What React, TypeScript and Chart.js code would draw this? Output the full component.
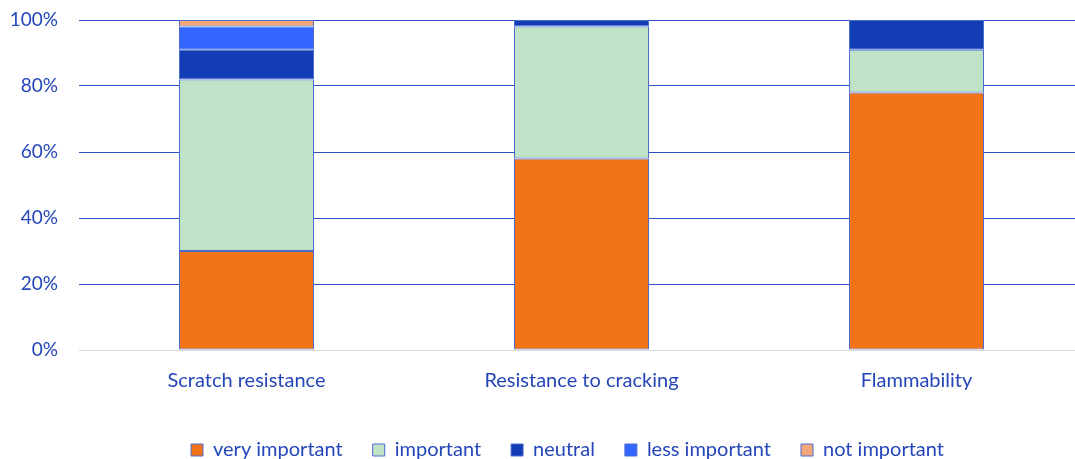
import React, { useEffect, useRef } from "react";
import { Chart, registerables } from "chart.js";

Chart.register(...registerables);

const categories = ["Scratch resistance", "Resistance to cracking", "Flammability"];
const veryImportant = [30, 58, 78];
const important = [52, 40, 13];
const neutral = [9, 2, 9];
const lessImportant = [7, 0, 0];
const notImportant = [2, 0, 0];
const yTicks = [0, 20, 40, 60, 80, 100];

const TEXT = "#2446B8";
const FONT = "Lato";
const W = 1100;
const H = 459;

const legendShift = {
  id: "legendShift",
  afterLayout(chart: any) {
    const lg = chart.legend;
    if (!lg) return;
    const dx = 25.5;
    const dy = 11;
    lg.left += dx;
    lg.right += dx;
    lg.top += dy;
    lg.bottom += dy;
  },
};

export default function App() {
  const ref = useRef<HTMLCanvasElement | null>(null);
  useEffect(() => {
    if (!ref.current) return;
    const border = "#4A6CD0";
    const mk = (label: string, data: number[], color: string) => ({
      label,
      data,
      backgroundColor: color,
      borderColor: border,
      borderWidth: 1,
      borderSkipped: false as const,
      barPercentage: 0.403,
      categoryPercentage: 1,
    });
    const chart = new Chart(ref.current, {
      type: "bar",
      data: {
        labels: categories,
        datasets: [
          mk("very important", veryImportant, "#F37319"),
          mk("important", important, "#C0E2C6"),
          mk("neutral", neutral, "#133DB5"),
          mk("less important", lessImportant, "#3366FF"),
          mk("not important", notImportant, "#F4A679"),
        ],
      },
      plugins: [legendShift],
      options: {
        responsive: false,
        animation: false,
        layout: { padding: { top: 20, right: W - 1084, left: 0, bottom: 0 } },
        plugins: {
          tooltip: { enabled: false },
          legend: {
            position: "bottom",
            labels: {
              color: TEXT,
              font: { family: FONT, size: 20 },
              boxWidth: 12,
              boxHeight: 12,
              padding: 30,
            },
          },
        },
        scales: {
          x: {
            stacked: true,
            grid: { display: false, drawTicks: false },
            border: { display: false },
            ticks: { color: TEXT, font: { family: FONT, size: 20 }, padding: 19 },
            afterFit: (s: any) => {
              s.height = 49;
            },
          },
          y: {
            stacked: true,
            min: 0,
            max: 100,
            afterBuildTicks: (s: any) => {
              s.ticks = yTicks.map((v) => ({ value: v }));
            },
            afterFit: (s: any) => {
              s.width = 79;
            },
            grid: {
              drawTicks: true,
              tickLength: 21,
              tickColor: "rgba(0,0,0,0)",
              color: (ctx: any) => (ctx.tick && ctx.tick.value === 0 ? "#D9D9D9" : "#2E50C4"),
              lineWidth: 1,
            },
            border: { display: false },
            ticks: {
              color: TEXT,
              font: { family: FONT, size: 19 },
              padding: 0,
              callback: (v: any) => v + "%",
            },
          },
        },
      },
    });
    return () => chart.destroy();
  }, []);
  return (
    <div style={{ position: "absolute", left: 0, top: 0, width: 1075, height: H, overflow: "hidden" }}>
      <canvas ref={ref} width={W} height={H} style={{ width: W, height: H }} />
    </div>
  );
}
